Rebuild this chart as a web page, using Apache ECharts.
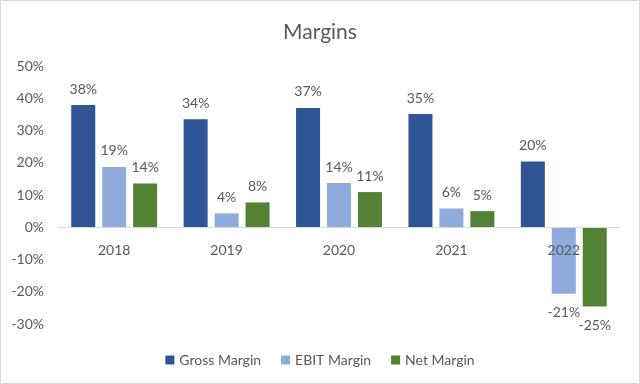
<!DOCTYPE html>
<html>
<head>
<meta charset="utf-8">
<script src="https://cdn.jsdelivr.net/npm/echarts@6/dist/echarts.min.js"></script>
<style>html,body{margin:0;padding:0;background:#fff;}#c{width:640px;height:384px;}</style>
</head>
<body>
<div id="c"></div>
<script>
const categories = ['2018', '2019', '2020', '2021', '2022'];
const grossMargin = [37.9, 33.5, 37.0, 35.1, 20.4];
const ebitMargin = [18.7, 4.3, 13.7, 5.8, -20.6];
const netMargin = [13.6, 7.7, 10.9, 5.0, -24.6];
const seriesNames = ['Gross Margin', 'EBIT Margin', 'Net Margin'];
const yTicks = { min: -30, max: 50, step: 10 };

const FONT = 'Lato';
const TXT = '#595959';
const colors = ['#2F5597', '#8FAADC', '#548235'];
const GRID = { left: 58, right: 20, top: 66, bottom: 60 };
const plotH = 384 - GRID.top - GRID.bottom;
const zeroOffset = -plotH * (0 - yTicks.min) / (yTicks.max - yTicks.min);

function mk(name, vals, color) {
  return {
    name: name,
    type: 'bar',
    barWidth: 24,
    barGap: '29%',
    itemStyle: { color: color },
    data: vals.map(v => ({
      value: v,
      label: { position: v < 0 ? 'bottom' : 'top', distance: v < 0 ? 12 : 9 }
    })),
    label: {
      show: true,
      color: TXT,
      fontFamily: FONT,
      fontSize: 14,
      formatter: p => Math.round(p.value) + '%'
    }
  };
}

const chart = echarts.init(document.getElementById('c'), null, { renderer: 'canvas' });
chart.setOption({
  backgroundColor: '#fff',
  animation: false,
  color: colors,
  title: {
    text: 'Margins',
    left: 'center',
    top: 17,
    textStyle: { color: TXT, fontFamily: FONT, fontSize: 21, fontWeight: 'normal' }
  },
  legend: {
    data: seriesNames,
    top: 348,
    left: 'center',
    icon: 'rect',
    itemWidth: 9,
    itemHeight: 9,
    itemGap: 20,
    textStyle: { color: TXT, fontFamily: FONT, fontSize: 14 }
  },
  graphic: [{
    type: 'rect',
    shape: { x: 0.5, y: 0.5, width: 639, height: 383 },
    style: { fill: 'none', stroke: '#D9D9D9', lineWidth: 1 },
    silent: true
  }],
  grid: { left: GRID.left, right: GRID.right, top: GRID.top, bottom: GRID.bottom, containLabel: false },
  xAxis: {
    type: 'category',
    data: categories,
    z: 5,
    offset: zeroOffset,
    axisLine: { onZero: false, lineStyle: { color: '#D9D9D9', width: 1 } },
    axisTick: { show: false },
    axisLabel: { color: TXT, fontFamily: FONT, fontSize: 14, margin: 16 }
  },
  yAxis: {
    type: 'value',
    min: yTicks.min,
    max: yTicks.max,
    interval: yTicks.step,
    axisLine: { show: false },
    axisTick: { show: false },
    splitLine: { show: false },
    axisLabel: { color: TXT, fontFamily: FONT, fontSize: 14, margin: 14, formatter: '{value}%' }
  },
  series: [
    mk(seriesNames[0], grossMargin, colors[0]),
    mk(seriesNames[1], ebitMargin, colors[1]),
    mk(seriesNames[2], netMargin, colors[2])
  ]
});
</script>
</body>
</html>
